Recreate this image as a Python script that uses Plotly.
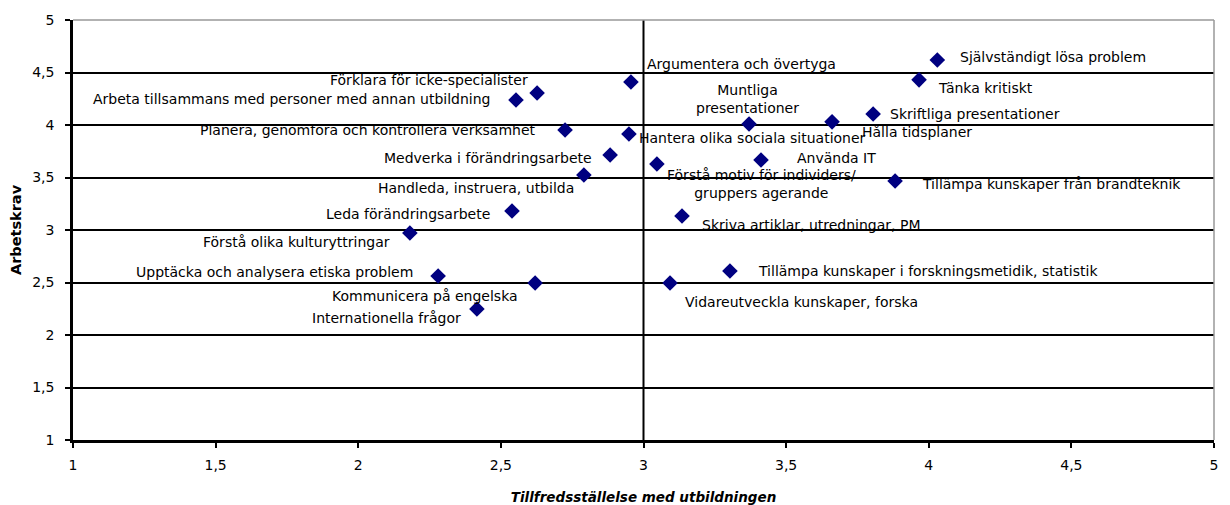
import plotly.graph_objects as go

labels = [
    "Självständigt lösa problem", "Tänka kritiskt", "Skriftliga presentationer",
    "Hålla tidsplaner", "Muntliga<br>presentationer", "Argumentera och övertyga",
    "Förklara för icke-specialister", "Arbeta tillsammans med personer med annan utbildning",
    "Planera, genomföra och kontrollera verksamhet", "Hantera olika sociala situationer",
    "Medverka i förändringsarbete", "Handleda, instruera, utbilda",
    "Förstå motiv för individers/<br>gruppers agerande", "Använda IT",
    "Tillämpa kunskaper från brandteknik", "Leda förändringsarbete",
    "Skriva artiklar, utredningar, PM", "Förstå olika kulturyttringar",
    "Upptäcka och analysera etiska problem", "Kommunicera på engelska",
    "Internationella frågor", "Tillämpa kunskaper i forskningsmetidik, statistik",
    "Vidareutveckla kunskaper, forska",
]
satisfaction = [4.03, 3.966, 3.805, 3.661, 3.37, 2.956, 2.627, 2.553, 2.725, 2.949,
                2.883, 2.791, 3.047, 3.412, 3.882, 2.539, 3.135, 2.181, 2.28, 2.62,
                2.416, 3.303, 3.093]
demand = [4.619, 4.43, 4.105, 4.03, 4.01, 4.41, 4.305, 4.238, 3.952, 3.914,
          3.714, 3.524, 3.629, 3.667, 3.467, 3.181, 3.133, 2.971, 2.562, 2.495,
          2.248, 2.61, 2.495]

x_ticks = [1, 1.5, 2, 2.5, 3, 3.5, 4, 4.5, 5]
x_ticktext = ["1", "1,5", "2", "2,5", "3", "3,5", "4", "4,5", "5"]
y_ticks = [1, 1.5, 2, 2.5, 3, 3.5, 4, 4.5, 5]
y_ticktext = ["1", "1,5", "2", "2,5", "3", "3,5", "4", "4,5", "5"]

# label placement (styling): anchor, x pixel shift, y pixel shift
label_style = [
    ("left", 21, 3), ("left", 17, -8), ("left", 15, 0), ("left", 28, -10),
    ("center", -2, 25), ("left", 14, 18), ("right", -7, 13), ("right", -23, 1),
    ("right", -27, 0), ("left", 8, -4), ("right", -16, -3), ("right", -8, -13),
    ("center", 105, -20), ("left", 34, 2), ("left", 25, -3), ("right", -20, -3),
    ("left", 18, -9), ("right", -18, -9), ("right", -23, 4), ("right", -15, -13),
    ("right", -14, -9), ("left", 26, 0), ("left", 13, -19),
]

label_font = dict(family="DejaVu Sans", size=14, color="black")
tick_font = dict(family="DejaVu Sans", size=14, color="black")

fig = go.Figure()
fig.add_trace(go.Scatter(
    x=satisfaction, y=demand, mode="markers",
    marker=dict(symbol="diamond", size=12, color="#000080"),
    hoverinfo="skip", showlegend=False,
))

for lab, xv, yv, (anc, dx, dy) in zip(labels, satisfaction, demand, label_style):
    fig.add_annotation(
        x=xv, y=yv, text=lab, showarrow=False, xanchor=anc, yanchor="middle",
        xshift=dx, yshift=dy, font=label_font, align="center",
    )

fig.add_shape(type="line", xref="x", yref="paper", x0=3, x1=3, y0=0, y1=1,
              line=dict(color="black", width=2), layer="above")
fig.add_shape(type="line", xref="paper", yref="paper", x0=0, x1=1, y0=1, y1=1,
              line=dict(color="#999999", width=1.5), layer="above")
fig.add_shape(type="line", xref="paper", yref="paper", x0=1, x1=1, y0=0, y1=1,
              line=dict(color="#999999", width=1.5), layer="above")

fig.update_layout(
    width=1222, height=497,
    margin=dict(l=65, r=16, t=12, b=65),
    paper_bgcolor="white", plot_bgcolor="white",
    xaxis=dict(
        range=[1, 5], tickvals=x_ticks, ticktext=x_ticktext, automargin=False,
        showgrid=False, zeroline=False, showline=True, linecolor="black", linewidth=3,
        ticks="outside", ticklen=5, tickwidth=1.5, tickcolor="black", tickfont=tick_font,
        ticklabelstandoff=5,
        title=dict(text="<b><i>Tillfredsställelse med utbildningen</i></b>",
                   font=dict(family="DejaVu Sans", size=13.5, color="black"),
                   standoff=21),
    ),
    yaxis=dict(
        range=[1, 5], tickvals=y_ticks, ticktext=y_ticktext, automargin=False,
        showgrid=True, gridcolor="black", gridwidth=2, zeroline=False,
        showline=True, linecolor="black", linewidth=2.5,
        ticks="outside", ticklen=5, tickwidth=1.5, tickcolor="black", tickfont=tick_font,
        ticklabelstandoff=8,
        title=dict(text="<b>Arbetskrav</b>",
                   font=dict(family="DejaVu Sans", size=14.5, color="black"),
                   standoff=12),
    ),
)

fig.write_html("out.html")
